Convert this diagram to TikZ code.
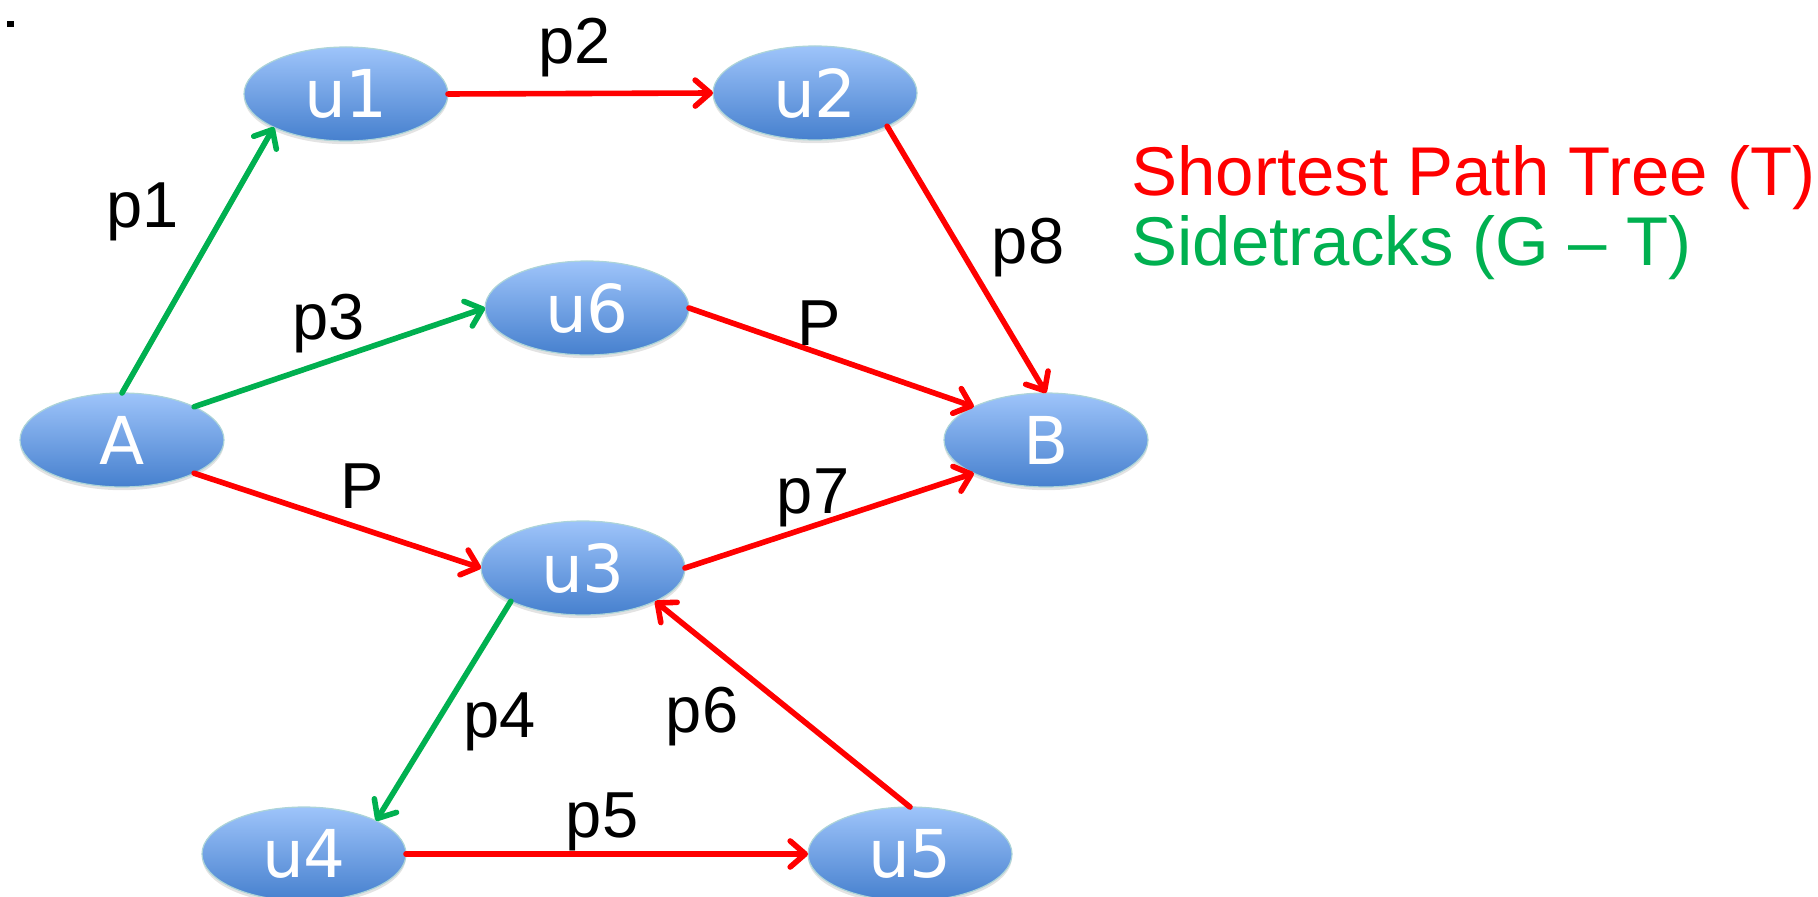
\documentclass[tikz,border=0pt]{standalone}
\usepackage{fontspec}
\setmainfont{Liberation Sans}
\newfontfamily\nodefont{DejaVu Sans}
\usetikzlibrary{arrows.meta,shadows,shapes.geometric}
\definecolor{tred}{RGB}{255,0,0}
\definecolor{tgreen}{RGB}{0,176,80}
\definecolor{ntop}{RGB}{158,196,250}
\definecolor{nbot}{RGB}{70,128,206}
\definecolor{nborder}{RGB}{172,212,216}
\begin{document}
\begin{tikzpicture}[x=0.5pt,y=-0.5pt,
  vert/.style={ellipse, minimum width=102pt, minimum height=47pt, inner sep=0pt, outer sep=0pt,
    draw=nborder, line width=0.6pt, top color=ntop, bottom color=nbot, text=white,
    font=\nodefont\fontsize{33}{40}\selectfont,
    drop shadow={shadow xshift=0pt, shadow yshift=-1.6pt, opacity=0.22}},
  tedge/.style={line width=2.8pt, line cap=round, -{Straight Barb[length=7.5pt,width=13pt,round]}},
  redge/.style={tedge, draw=tred},
  gedge/.style={tedge, draw=tgreen},
  lbl/.style={font=\fontsize{32.5}{39}\selectfont, inner sep=0pt, anchor=base},
  legend/.style={font=\fontsize{34.5}{41}\selectfont, inner sep=0pt, anchor=base west}]
\useasboundingbox (0,0) rectangle (1818,897);

\node[fill=black, minimum width=3.5pt, minimum height=3pt, inner sep=0pt] (dot) at (10.5,24) {};

\node[vert] (u1) at (346,94) {u1};
\node[vert] (u2) at (815,93) {u2};
\node[vert] (u6) at (587,308) {u6};
\node[vert] (A) at (122,440) {A};
\node[vert] (B) at (1046,440) {B};
\node[vert] (u3) at (583,568) {u3};
\node[vert] (u4) at (304,854) {u4};
\node[vert] (u5) at (910,854) {u5};

\draw[gedge] (A.north) -- (u1.south west);
\draw[gedge] (A.north east) -- (u6.west);
\draw[redge] (A.south east) -- (u3.west);
\draw[redge] (u1.east) -- (u2.west);
\draw[redge] (u2.south east) -- (B.north);
\draw[redge] (u6.east) -- (B.north west);
\draw[redge] (u3.east) -- (B.south west);
\draw[gedge] (u3.south west) -- (u4.north east);
\draw[redge] (u4.east) -- (u5.west);
\draw[redge] (u5.north) -- (u3.south east);

\node[lbl] (lp1) at (143,228) {p1};
\node[lbl] (lp2) at (575,64) {p2};
\node[lbl] (lp3) at (329,340) {p3};
\node[lbl] (lp8) at (1028,264) {p8};
\node[lbl] (lPa) at (819,346) {P};
\node[lbl] (lPb) at (362,508) {P};
\node[lbl] (lp7) at (813,513) {p7};
\node[lbl] (lp4) at (500,737) {p4};
\node[lbl] (lp6) at (702,732) {p6};
\node[lbl] (lp5) at (602,837) {p5};

\node[legend, text=tred] (leg1) at (1131,196) {Shortest Path Tree (T)};
\node[legend, text=tgreen] (leg2) at (1131,266) {Sidetracks (G \textendash{} T)};
\end{tikzpicture}
\end{document}
